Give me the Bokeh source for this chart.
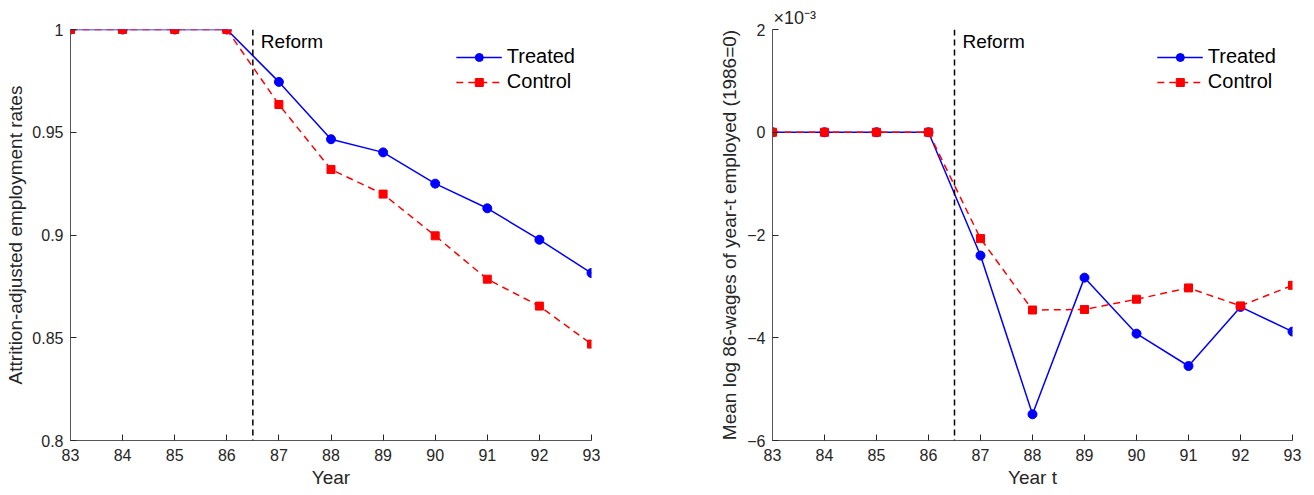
from bokeh.plotting import figure
from bokeh.layouts import row
from bokeh.models import Span, Label, FixedTicker
from bokeh.embed import file_html
from bokeh.resources import INLINE

years = [83, 84, 85, 86, 87, 88, 89, 90, 91, 92, 93]

# Left panel: attrition-adjusted employment rates
emp_treated = [1.0, 1.0, 1.0, 1.0, 0.9745, 0.9466, 0.9402, 0.9250, 0.9130, 0.8977, 0.8815]
emp_control = [1.0, 1.0, 1.0, 1.0, 0.9635, 0.9319, 0.9199, 0.8996, 0.8785, 0.8654, 0.8469]

# Right panel: mean log 86-wages (in units of 1e-3)
wage_treated_e3 = [0.0, 0.0, 0.0, 0.0, -2.40, -5.49, -2.83, -3.92, -4.55, -3.40, -3.88]
wage_control_e3 = [0.0, 0.0, 0.0, 0.0, -2.07, -3.46, -3.45, -3.25, -3.03, -3.38, -2.98]

left_yticks = [0.8, 0.85, 0.9, 0.95, 1.0]
left_ylabels = {0.8: "0.8", 0.85: "0.85", 0.9: "0.9", 0.95: "0.95", 1.0: "1"}
right_yticks = [-6, -4, -2, 0, 2]
reform_year = 86.5

FONT = "Liberation Sans"
AXC = "#262626"
BLUE = "#0000ff"
RED = "#ff0000"


def style(p, xlabel, ylabel, ylab_standoff):
    p.outline_line_color = None
    p.xgrid.visible = False
    p.ygrid.visible = False
    for ax in (p.xaxis[0], p.yaxis[0]):
        ax.axis_line_color = "#555555"
        ax.axis_line_width = 1
        ax.major_tick_line_color = AXC
        ax.major_tick_in = 6
        ax.major_tick_out = 0
        ax.minor_tick_line_color = None
        ax.major_label_text_font = FONT
        ax.major_label_text_font_size = "16px"
        ax.major_label_text_color = AXC
        ax.axis_label_text_font = FONT
        ax.axis_label_text_font_size = "19px"
        ax.axis_label_text_font_style = "normal"
        ax.axis_label_text_color = AXC
    p.xaxis.axis_label = xlabel
    p.yaxis.axis_label = ylabel
    p.xaxis.ticker = FixedTicker(ticks=years)
    p.xaxis.major_label_standoff = 8
    p.xaxis.axis_label_standoff = 3
    p.yaxis.major_label_standoff = 7
    p.yaxis.axis_label_standoff = ylab_standoff


def add_series(p, yt, yc):
    p.line(years, yt, line_color=BLUE, line_width=1.5, legend_label="Treated")
    p.scatter(years, yt, marker="circle", size=9, fill_color=BLUE, line_color=BLUE, legend_label="Treated")
    p.line(years, yc, line_color=RED, line_width=1.5, line_dash="7 5", legend_label="Control")
    p.scatter(years, yc, marker="square", size=8, fill_color=RED, line_color=RED, legend_label="Control")
    p.add_layout(Span(location=reform_year, dimension="height", line_color="black",
                      line_width=1.5, line_dash="6 4"))
    lg = p.legend[0]
    lg.location = "top_right"
    lg.border_line_color = None
    lg.background_fill_alpha = 0
    lg.label_text_font = FONT
    lg.label_text_font_size = "20px"
    lg.label_text_color = "black"
    lg.glyph_width = 46
    lg.glyph_height = 20
    lg.label_height = 20
    lg.label_standoff = 5
    lg.spacing = 2
    lg.padding = 4
    lg.margin = 16


# Left figure
p1 = figure(width=680, height=495, x_range=(83, 93), y_range=(0.8, 1.0),
            output_backend="svg", toolbar_location=None,
            min_border_left=70, min_border_right=89, min_border_top=29, min_border_bottom=55)
style(p1, "Year", "Attrition-adjusted employment rates", 3)
p1.yaxis.ticker = FixedTicker(ticks=left_yticks)
p1.yaxis.major_label_overrides = left_ylabels
add_series(p1, emp_treated, emp_control)
p1.add_layout(Label(x=reform_year, y=1.0, x_offset=8, y_offset=-1, text="Reform",
                    text_font=FONT, text_font_size="19px", text_baseline="top",
                    text_color="black"))

# Right figure
p2 = figure(width=634, height=495, x_range=(83, 93), y_range=(-6, 2),
            output_backend="svg", toolbar_location=None,
            min_border_left=92, min_border_right=22, min_border_top=29, min_border_bottom=55)
style(p2, "Year t", "Mean log 86-wages of year-t employed (1986=0)", 4)
p2.yaxis.ticker = FixedTicker(ticks=right_yticks)
add_series(p2, wage_treated_e3, wage_control_e3)
p2.add_layout(Label(x=reform_year, y=2, x_offset=8, y_offset=-1, text="Reform",
                    text_font=FONT, text_font_size="19px", text_baseline="top",
                    text_color="black"))
p2.title.text = "\u00d710\u207b\u00b3"
p2.title.align = "left"
p2.title.offset = 1
p2.title.standoff = 4
p2.title.text_font = FONT
p2.title.text_font_size = "18px"
p2.title.text_font_style = "normal"
p2.title.text_color = AXC

layout = row(p1, p2)
open("out.html", "w").write(file_html(layout, INLINE))
